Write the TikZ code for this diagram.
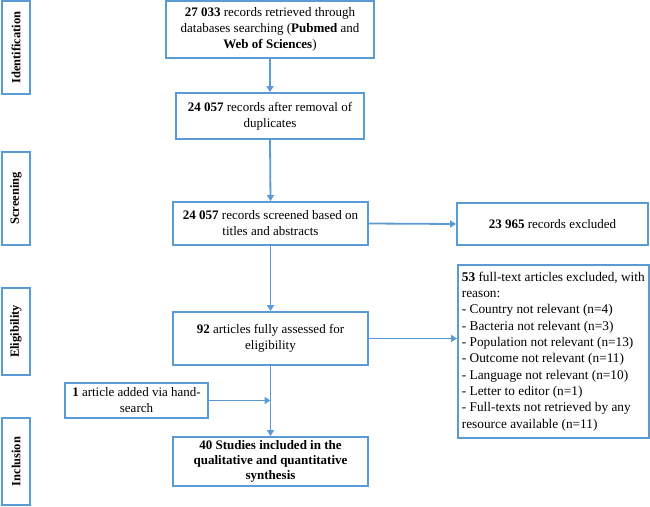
\documentclass[tikz,border=0pt]{standalone}
\usepackage{fontspec}
\setmainfont{Liberation Serif}
\usetikzlibrary{arrows.meta,calc}
\definecolor{pblue}{RGB}{91,155,213}
\begin{document}
\begin{tikzpicture}[x=1pt,y=-1pt,
  box/.style={draw=pblue,line width=1.8pt,fill=white,inner sep=2pt,align=center,
    font=\fontsize{13}{16}\selectfont},
  sidebox/.style={draw=pblue,line width=1.8pt,fill=white,rotate=90,inner sep=0pt,
    font=\fontsize{12.5}{14}\selectfont\bfseries},
  conn/.style={draw=pblue,line width=1.8pt,-{Triangle[width=7pt,length=6pt]}}]
\useasboundingbox (0,0) rectangle (650,506);
% side labels
\node[sidebox,minimum width=93pt,minimum height=28pt] (sid) at (16,47.5) {Identification};
\node[sidebox,minimum width=93pt,minimum height=28pt] (sscr) at (16,198.5) {Screening};
\node[sidebox,minimum width=87pt,minimum height=28pt] (selig) at (16,331.5) {Eligibility};
\node[sidebox,minimum width=87pt,minimum height=28pt] (sincl) at (16,461.5) {Inclusion};
% main boxes
\node[box,minimum width=208pt,minimum height=57pt] (b1) at (270,29.5)
  {\textbf{27 033} records retrieved through\\databases searching (\textbf{Pubmed} and\\\textbf{Web of Sciences})};
\node[box,minimum width=188pt,minimum height=46pt] (b2) at (270,116)
  {\textbf{24 057} records after removal of\\duplicates};
\node[box,minimum width=195pt,minimum height=43pt] (b3) at (270.5,223.5)
  {\textbf{24 057} records screened based on\\titles and abstracts};
\node[box,minimum width=191pt,minimum height=42pt] (bx) at (552.5,224)
  {\textbf{23 965} records excluded};
\node[box,minimum width=195pt,minimum height=53pt] (b4) at (270.5,338.5)
  {\textbf{92} articles fully assessed for\\eligibility};
\node[box,minimum width=188pt,minimum height=173pt,align=left,anchor=north west,
  inner xsep=4pt,inner ysep=5pt,font=\fontsize{13.3}{16.3}\selectfont] (b53) at (457,264)
  {\textbf{53} full-text articles excluded, with\\reason:\\- Country not relevant (n=4)\\- Bacteria not relevant (n=3)\\- Population not relevant (n=13)\\- Outcome not relevant (n=11)\\- Language not relevant (n=10)\\- Letter to editor (n=1)\\- Full-texts not retrieved by any\\resource available (n=11)};
\node[box,minimum width=143pt,minimum height=35pt] (bh) at (136.5,400.5)
  {\textbf{1} article added via hand-\\search};
\node[box,minimum width=195pt,minimum height=49pt,font=\fontsize{13}{15}\selectfont\bfseries] (b5) at (270.5,461.5)
  {40 Studies included in the\\qualitative and quantitative\\synthesis};
% connectors
\draw[conn] (b1.south) -- (b2.north);
\draw[conn] (b2.south) -- (b3.north);
\draw[conn] (b3.east) -- (bx.west);
\draw[conn] (b3.south) -- (b4.north);
\draw[conn] (b4.east) -- (b4.east -| b53.west);
\draw[conn] (b4.south) -- (b5.north);
\coordinate (hj) at (bh.east -| b4.south);
\draw[conn] (bh.east) -- (hj);
\end{tikzpicture}
\end{document}
